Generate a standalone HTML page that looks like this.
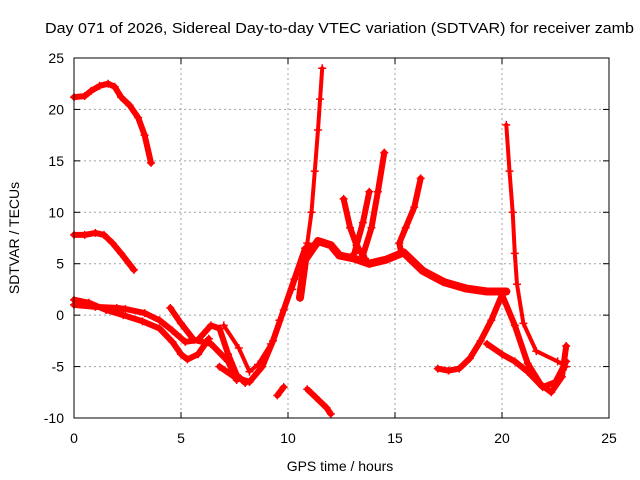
<!DOCTYPE html>
<html><head><meta charset="utf-8"><style>
body{margin:0;background:#fff;}
svg{display:block;font-family:"Liberation Sans",sans-serif;}
</style></head><body>
<svg id="chart" width="640" height="480" viewBox="0 0 640 480">
<rect width="640" height="480" fill="#fff"/>
<text x="45" y="33" font-size="15" textLength="589" lengthAdjust="spacingAndGlyphs">Day 071 of 2026, Sidereal Day-to-day VTEC variation (SDTVAR) for receiver zamb</text>
<g id="grid"></g>
<g id="series"></g>
<rect x="74" y="58" width="535" height="360" fill="none" stroke="#000" stroke-width="1"/>
<g id="ticks"></g>
<text x="340" y="471" font-size="14" text-anchor="middle">GPS time / hours</text>
<text transform="translate(19,238) rotate(-90)" font-size="14" text-anchor="middle">SDTVAR / TECUs</text>
</svg>
<script>
const xTicks=[0,5,10,15,20,25];
const yTicks=[-10,-5,0,5,10,15,20,25];
const trackA=[[0,21.2],[0.5,21.3],[0.8,21.8],[1.2,22.3],[1.6,22.5],[1.9,22.2],[2.2,21.2],[2.6,20.4],[3.0,19.2],[3.3,17.5],[3.6,14.8]];
const trackB=[[0,7.8],[0.5,7.8],[1.0,8.0],[1.4,7.8],[1.8,7.0],[2.2,6.0],[2.8,4.4]];
const trackC=[[0,1.5],[0.7,1.2],[1.5,0.5],[2.3,0],[3.2,-0.6],[4.0,-1.3],[4.6,-2.6],[5.0,-3.8],[5.3,-4.3],[5.8,-3.8],[6.3,-2.3]];
const trackD=[[0,1],[1,0.8],[2,0.7],[2.4,0.6],[3.3,0.2],[4.0,-0.5],[4.6,-1.5],[5.2,-2.6],[5.8,-2.4],[6.4,-1.0],[6.8,-1.3],[7.2,-3.8],[7.6,-5.8],[8.0,-6.6]];
const trackE=[[4.5,0.7],[5,-0.8],[5.6,-2.4],[6.4,-2.8],[7.2,-4.5],[7.6,-6.3]];
const trackF=[[7.0,-1.0],[7.7,-3.2],[8.2,-5.5],[8.6,-4.8],[9.2,-2.8],[9.6,-0.5],[10.2,2.5],[10.6,5],[10.9,7],[11.1,10],[11.25,14],[11.4,18],[11.5,21],[11.6,24]];
const trackG=[[6.8,-5],[7.5,-6.0],[8.2,-6.5],[8.8,-5.0],[9.3,-2.5],[9.8,0.5],[10.3,3.5],[10.8,6.5],[11.2,6.8]];
const trackH=[[10.56,1.7],[10.8,5.4],[11.4,7.2],[12.0,6.8],[12.4,5.8],[13.1,5.5],[13.8,5.0],[14.6,5.4],[15.4,6.1],[16.3,4.3],[17.3,3.2],[18.3,2.6],[19.3,2.3],[20.2,2.3]];
const trackI=[[12.6,11.3],[12.9,8.5],[13.2,6.8],[13.6,5.5]];
const trackJ=[[13.8,12],[13.5,9],[13.1,6]];
const trackK=[[14.5,15.8],[14.2,12],[13.9,8.5],[13.5,5.8]];
const trackL=[[16.2,13.3],[15.9,10.5],[15.5,8.5],[15.2,7],[15.3,6]];
const trackM=[[17.0,-5.2],[17.5,-5.4],[18.0,-5.2],[18.5,-4.2],[19.0,-2.5],[19.5,-0.5],[20.0,2.0]];
const trackN=[[20.2,18.5],[20.35,14],[20.5,10],[20.6,6],[20.7,3],[21.0,-0.8],[21.6,-3.5],[22.6,-4.5],[23.0,-5]];
const trackO=[[20.0,2.0],[20.6,-1.0],[21.2,-4.7],[21.8,-6.7],[22.3,-7.5],[22.8,-6.0],[23.0,-3.0]];
const trackP=[[19.3,-2.8],[20.0,-3.8],[20.6,-4.5],[21.2,-5.5],[21.9,-7.0],[22.5,-6.5],[23.0,-4.5]];
const trackQ=[[9.5,-7.8],[9.8,-7.0]];
const trackR=[[10.9,-7.2],[11.3,-8.0],[11.8,-9.0],[12.0,-9.6]];
const tracks=[trackA,trackB,trackC,trackD,trackE,trackF,trackG,trackH,trackI,trackJ,trackK,trackL,trackM,trackN,trackO,trackP,trackQ,trackR];

const NS="http://www.w3.org/2000/svg";
const X0=74,X1=609,Y0=418,Y1=58,xmin=0,xmax=25,ymin=-10,ymax=25;
const sx=t=>X0+(t-xmin)/(xmax-xmin)*(X1-X0);
const sy=v=>Y0-(v-ymin)/(ymax-ymin)*(Y0-Y1);
function mk(tag,attrs,parent){const e=document.createElementNS(NS,tag);for(const k in attrs)e.setAttribute(k,attrs[k]);parent.appendChild(e);return e;}
const grid=document.getElementById('grid'),ticks=document.getElementById('ticks'),series=document.getElementById('series');
xTicks.forEach(t=>{
  const x=sx(t);
  if(t>xmin&&t<xmax){const g=mk('line',{x1:x,x2:x,y1:Y1,y2:Y0,stroke:'#a0a0a0','stroke-dasharray':'2,3'},grid);
  
  }
  mk('line',{x1:x,x2:x,y1:Y0,y2:Y0-6,stroke:'#000'},ticks);
  mk('line',{x1:x,x2:x,y1:Y1,y2:Y1+6,stroke:'#000'},ticks);
  const l=mk('text',{x:x,y:443,'font-size':14,'text-anchor':'middle'},ticks);
  l.textContent=t;
  
  
});
yTicks.forEach(v=>{
  const y=sy(v);
  if(v>ymin&&v<ymax){const g=mk('line',{x1:X0,x2:X1,y1:y,y2:y,stroke:'#a0a0a0','stroke-dasharray':'2,3'},grid);
  
  }
  mk('line',{x1:X0,x2:X0+6,y1:y,y2:y,stroke:'#000'},ticks);
  mk('line',{x1:X1,x2:X1-6,y1:y,y2:y,stroke:'#000'},ticks);
  const l=mk('text',{x:64,y:y+5,'font-size':14,'text-anchor':'end'},ticks);
  l.textContent=v;
  
  
});
tracks.forEach((tr,i)=>{
  const pts=tr.map(p=>sx(p[0]).toFixed(1)+','+sy(p[1]).toFixed(1)).join(' ');
  const w=(tr===trackF||tr===trackN)?4:(tr===trackH?8:6);
  const pl=mk('polyline',{points:pts,fill:'none',stroke:'#ff0000','stroke-width':w,'stroke-linejoin':'round','stroke-linecap':'round'},series);
  
  
  let d='';
  tr.forEach(p=>{const x=sx(p[0]),y=sy(p[1]);d+=`M${x-4},${y}h8M${x},${y-4}v8`;});
  const m=mk('path',{d:d,stroke:'#ff0000','stroke-width':1.5,fill:'none'},series);
  
  
});
</script>
</body></html>
